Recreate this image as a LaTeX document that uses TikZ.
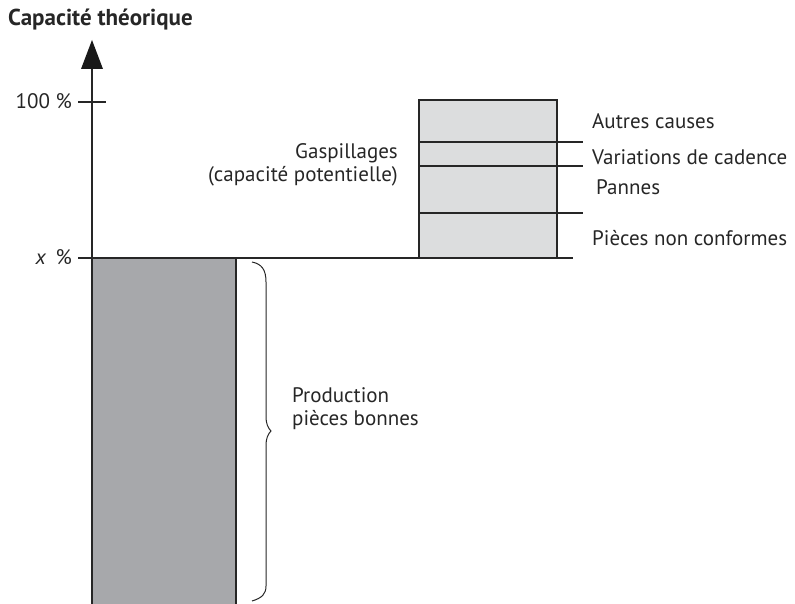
\documentclass[tikz,border=0pt]{standalone}
\usepackage{fontspec}
\setmainfont{PT Sans}
\begin{document}
\begin{tikzpicture}[x=1pt,y=-1pt,
  txt/.style={inner sep=0pt,font=\fontsize{21}{23}\selectfont,text=black!85},
  rule/.style={line width=1.2pt,draw=black!85}]
\definecolor{gooddark}{HTML}{A7A8AB}
\definecolor{wastelight}{HTML}{DCDDDE}
\useasboundingbox (0,0) rectangle (795,604);

% good production bar
\fill[gooddark] (92,258) rectangle (236,604);
\draw[rule] (236,258) -- (236,604);

% potential capacity stack
\fill[wastelight] (419,100) rectangle (557,258);
\draw[rule] (419,258) -- (419,100) -- (557,100) -- (557,258);
\coordinate (s1) at (419,142);
\coordinate (s2) at (419,166);
\coordinate (s3) at (419,213);
\draw[rule] (s1) -- ++(164,0);
\draw[rule] (s2) -- ++(164,0);
\draw[rule] (s3) -- ++(164,0);

% x % level
\coordinate (xl) at (78,258);
\draw[rule] (xl) -- (573,258);

% vertical axis and arrow
\coordinate (ax0) at (92,604);
\coordinate (ax1) at (92,66);
\draw[rule] (ax0) -- (ax1);
\fill[black!90] (92,40) -- (103,69) -- (81,69) -- cycle;
\draw[rule] (78,102) -- (106,102);

% brace
\draw[line width=1pt,draw=black!85]
  (252,262) .. controls (262,264) and (266,270) .. (266,282)
  -- (266,416) .. controls (266,424) and (268,428) .. (271,431)
  .. controls (268,434) and (266,438) .. (266,446)
  -- (266,586) .. controls (266,594) and (262,598) .. (252,601);

% labels
\node[txt,anchor=base west,font=\fontsize{23}{26}\selectfont\bfseries] (title) at (8,26) {Capacité théorique};
\node[txt,anchor=base east] (l100) at (72,109) {100 \%};
\node[txt,anchor=base east] (lx) at (72,265) {\textit{x}\, \%};
\node[txt,anchor=base west] (a1) at (592,129) {Autres causes};
\node[txt,anchor=base west] (a2) at (592,165) {Variations de cadence};
\node[txt,anchor=base west] (a3) at (596,195) {Pannes};
\node[txt,anchor=base west] (a4) at (592,245) {Pièces non conformes};
\node[txt,anchor=base east,align=right] (gasp) at (398,182) {Gaspillages\\(capacité potentielle)};
\node[txt,anchor=base west,align=left] (prod) at (292,425) {Production\\pièces bonnes};
\end{tikzpicture}
\end{document}
